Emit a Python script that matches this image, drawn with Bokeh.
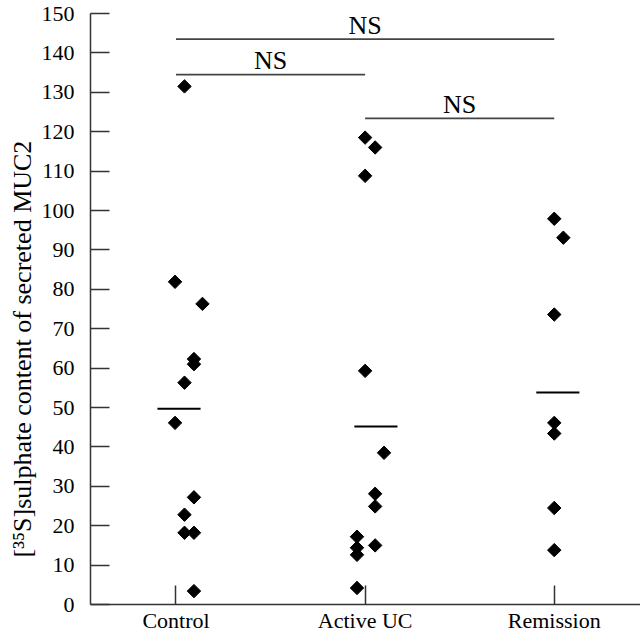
from math import pi
from bokeh.plotting import figure
from bokeh.models import Range1d, FixedTicker, Title
from bokeh.core.properties import value
from bokeh.embed import file_html
from bokeh.resources import INLINE

# ---- data ----
categories = ["Control", "Active UC", "Remission"]
control = [131.5, 81.9, 76.3, 62.3, 61.0, 56.3, 46.1, 27.2, 22.8, 18.2, 18.2, 3.4]
active_uc = [118.5, 116.0, 108.8, 59.3, 38.5, 28.1, 24.9, 17.2, 15.0, 14.4, 12.6, 4.2]
remission = [97.9, 93.1, 73.6, 46.1, 43.4, 24.5, 13.8]
means = [49.7, 45.2, 53.8]
comparisons = [("Control", "Remission"), ("Control", "Active UC"), ("Active UC", "Remission")]
comparison_labels = ["NS", "NS", "NS"]
bracket_levels = [143.5, 134.5, 123.4]
y_ticks = list(range(0, 151, 10))
y_label = "[\u00b3\u2075S]sulphate content of secreted MUC2"

# horizontal jitter of the points (category units)
control_jitter = [0.045, -0.005, 0.14, 0.095, 0.095, 0.045, -0.005, 0.095, 0.045, 0.045, 0.095, 0.095]
active_jitter = [0.0, 0.053, 0.0, 0.0, 0.10, 0.053, 0.053, -0.043, 0.053, -0.043, -0.043, -0.043]
remission_jitter = [0.0, 0.048, 0.0, 0.0, 0.0, 0.0, 0.0]
mean_shift = [0.016, 0.057, 0.019]

# ---- layout / style ----
FONT = "'Liberation Serif'"
pos = {c: i + 1 for i, c in enumerate(categories)}
groups = [control, active_uc, remission]
jitters = [control_jitter, active_jitter, remission_jitter]

p = figure(width=640, height=635, output_backend="svg", toolbar_location=None,
           x_range=Range1d(0.548, 3.456), y_range=Range1d(0, 150),
           min_border_left=90, min_border_top=13, min_border_right=0, min_border_bottom=0)
p.outline_line_color = None
p.grid.grid_line_color = None

for ax in (p.xaxis[0], p.yaxis[0]):
    ax.axis_line_color = "#333333"
    ax.axis_line_width = 1.5
    ax.major_tick_line_color = "#333333"
    ax.major_tick_line_width = 1.5
    ax.major_tick_in = 19
    ax.major_tick_out = 0
    ax.minor_tick_line_color = None
    ax.major_label_text_font = FONT
    ax.major_label_text_font_size = "22px"
    ax.major_label_text_color = "black"

p.yaxis[0].ticker = FixedTicker(ticks=y_ticks)
p.yaxis[0].major_label_standoff = 16
p.xaxis[0].ticker = FixedTicker(ticks=[pos[c] for c in categories])
p.xaxis[0].major_label_overrides = {pos[c]: c for c in categories}
p.xaxis[0].major_label_standoff = 3

# points
for c, vals, jit in zip(categories, groups, jitters):
    xs = [pos[c] + j for j in jit]
    p.scatter(xs, vals, marker="square", size=9.5, angle=pi / 4,
              fill_color="black", line_color="black")

# mean lines
half = 0.114
p.segment(x0=[pos[c] + s - half for c, s in zip(categories, mean_shift)],
          y0=means,
          x1=[pos[c] + s + half for c, s in zip(categories, mean_shift)],
          y1=means, line_color="black", line_width=2)

# comparison brackets
bx0 = [pos[a] for a, b in comparisons]
bx1 = [pos[b] for a, b in comparisons]
p.segment(x0=bx0, y0=bracket_levels, x1=bx1, y1=bracket_levels,
          line_color="#444444", line_width=1.8)
p.text(x=[(a + b) / 2 for a, b in zip(bx0, bx1)], y=bracket_levels,
       text=comparison_labels, text_font=value(FONT), text_font_size="26px",
       text_align="center", text_baseline="alphabetic", y_offset=-14,
       text_color="black")

# y axis title, placed in the left panel
p.add_layout(Title(text=y_label, align="left", offset=47, standoff=4,
                   text_font=FONT, text_font_size="26px",
                   text_font_style="normal", text_color="black"), "left")

open("out.html", "w").write(file_html(p, INLINE))
